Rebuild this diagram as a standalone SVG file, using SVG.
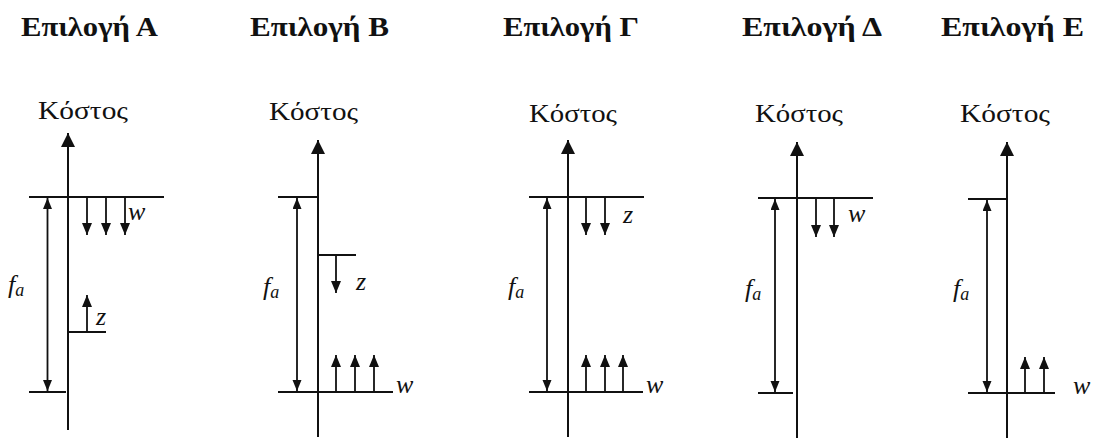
<svg xmlns="http://www.w3.org/2000/svg" width="1095" height="440" viewBox="0 0 1095 440">
<style>
.title{font-family:"Liberation Serif","DejaVu Serif",serif;font-weight:bold;font-size:28px;fill:#111}
.cost{font-family:"Liberation Serif","DejaVu Serif",serif;font-size:25px;fill:#111}
.lab{font-family:"Liberation Serif","DejaVu Serif",serif;font-style:italic;font-size:26px;fill:#111}
.sub{font-size:18px}
.ln{stroke:#111;stroke-width:2;fill:none}
.axis{stroke:#111;stroke-width:2;fill:none;marker-end:url(#big)}
.arr{stroke:#111;stroke-width:1.8;fill:none;marker-end:url(#small)}
.dbl{stroke:#111;stroke-width:1.8;fill:none;marker-start:url(#fa);marker-end:url(#fa)}
</style>
<defs>
<marker id="big" markerUnits="userSpaceOnUse" markerWidth="16" markerHeight="16" refX="14" refY="7" orient="auto"><path d="M0,0 L14,7 L0,14 z" fill="#111"/></marker>
<marker id="small" markerUnits="userSpaceOnUse" markerWidth="14" markerHeight="12" refX="12" refY="5" orient="auto"><path d="M0,0 L12,5 L0,10 z" fill="#111"/></marker>
<marker id="fa" markerUnits="userSpaceOnUse" markerWidth="12" markerHeight="10" refX="11" refY="4.5" orient="auto-start-reverse"><path d="M0,0 L11,4.5 L0,9 z" fill="#111"/></marker>
</defs>

<g id="panelA">
<text class="title" x="21" y="36" textLength="137" lengthAdjust="spacingAndGlyphs">Επιλογή Α</text>
<text class="cost" x="38" y="119" textLength="90" lengthAdjust="spacingAndGlyphs">Κόστος</text>
<line class="axis" x1="68" y1="430" x2="68" y2="133"/>
<line class="ln" x1="29" y1="197" x2="164" y2="197"/>
<line class="ln" x1="29" y1="392" x2="66" y2="392"/>
<line class="dbl" x1="47.5" y1="198" x2="47.5" y2="391"/>
<text class="lab" x="8" y="293">f<tspan class="sub" dy="3">a</tspan></text>
<line class="arr" x1="87" y1="197" x2="87" y2="235"/>
<line class="arr" x1="106" y1="197" x2="106" y2="235"/>
<line class="arr" x1="125" y1="197" x2="125" y2="235"/>
<text class="lab" x="128" y="220">w</text>
<line class="ln" x1="68" y1="332" x2="106" y2="332"/>
<line class="arr" x1="87" y1="332" x2="87" y2="295"/>
<text class="lab" x="96" y="325">z</text>
</g>

<g id="panelB">
<text class="title" x="250" y="36" textLength="139" lengthAdjust="spacingAndGlyphs">Επιλογή Β</text>
<text class="cost" x="269" y="120" textLength="89" lengthAdjust="spacingAndGlyphs">Κόστος</text>
<line class="axis" x1="318" y1="437" x2="318" y2="140"/>
<line class="ln" x1="278" y1="197" x2="318" y2="197"/>
<line class="ln" x1="278" y1="392" x2="393" y2="392"/>
<line class="dbl" x1="297" y1="198" x2="297" y2="391"/>
<text class="lab" x="263" y="295">f<tspan class="sub" dy="3">a</tspan></text>
<line class="ln" x1="318" y1="255" x2="356" y2="255"/>
<line class="arr" x1="336" y1="255" x2="336" y2="293"/>
<text class="lab" x="356" y="290">z</text>
<line class="arr" x1="336" y1="392" x2="336" y2="355"/>
<line class="arr" x1="355" y1="392" x2="355" y2="355"/>
<line class="arr" x1="374" y1="392" x2="374" y2="355"/>
<text class="lab" x="396" y="393">w</text>
</g>

<g id="panelC">
<text class="title" x="503" y="36" textLength="136" lengthAdjust="spacingAndGlyphs">Επιλογή Γ</text>
<text class="cost" x="529" y="122" textLength="88" lengthAdjust="spacingAndGlyphs">Κόστος</text>
<line class="axis" x1="568" y1="437" x2="568" y2="140"/>
<line class="ln" x1="529" y1="197" x2="644" y2="197"/>
<line class="ln" x1="529" y1="392" x2="643" y2="392"/>
<line class="dbl" x1="547" y1="198" x2="547" y2="391"/>
<text class="lab" x="508" y="295">f<tspan class="sub" dy="3">a</tspan></text>
<line class="arr" x1="586" y1="197" x2="586" y2="235"/>
<line class="arr" x1="605" y1="197" x2="605" y2="235"/>
<text class="lab" x="623" y="223">z</text>
<line class="arr" x1="586" y1="392" x2="586" y2="355"/>
<line class="arr" x1="605" y1="392" x2="605" y2="355"/>
<line class="arr" x1="623" y1="392" x2="623" y2="355"/>
<text class="lab" x="646" y="393">w</text>
</g>

<g id="panelD">
<text class="title" x="742" y="36" textLength="140" lengthAdjust="spacingAndGlyphs">Επιλογή Δ</text>
<text class="cost" x="755" y="122" textLength="88" lengthAdjust="spacingAndGlyphs">Κόστος</text>
<line class="axis" x1="797" y1="438" x2="797" y2="142"/>
<line class="ln" x1="758" y1="198" x2="873" y2="198"/>
<line class="ln" x1="758" y1="393" x2="793" y2="393"/>
<line class="dbl" x1="775" y1="199" x2="775" y2="392"/>
<text class="lab" x="745" y="297">f<tspan class="sub" dy="3">a</tspan></text>
<line class="arr" x1="816" y1="198" x2="816" y2="237"/>
<line class="arr" x1="834" y1="198" x2="834" y2="237"/>
<text class="lab" x="848" y="222">w</text>
</g>

<g id="panelE">
<text class="title" x="941" y="36" textLength="143" lengthAdjust="spacingAndGlyphs">Επιλογή Ε</text>
<text class="cost" x="960" y="122" textLength="90" lengthAdjust="spacingAndGlyphs">Κόστος</text>
<line class="axis" x1="1007" y1="438" x2="1007" y2="142"/>
<line class="ln" x1="968" y1="199" x2="1007" y2="199"/>
<line class="ln" x1="968" y1="393" x2="1055" y2="393"/>
<line class="dbl" x1="987" y1="200" x2="987" y2="392"/>
<text class="lab" x="953" y="297">f<tspan class="sub" dy="3">a</tspan></text>
<line class="arr" x1="1025" y1="393" x2="1025" y2="357"/>
<line class="arr" x1="1044" y1="393" x2="1044" y2="357"/>
<text class="lab" x="1073" y="394">w</text>
</g>
</svg>
